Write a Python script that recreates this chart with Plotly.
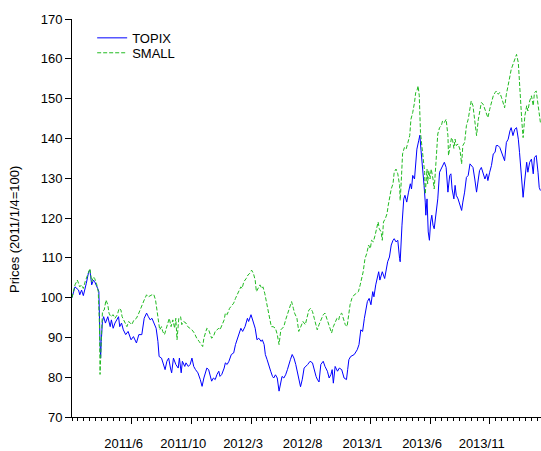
import plotly.graph_objects as go

# Trading-day index (0 = 2011/1/4) and index levels rebased to 100
topix_day = [0, 5, 11, 13, 16, 19, 24, 28, 30, 33, 36, 38, 43, 45, 47, 48, 49, 51, 53, 56,
             60, 64, 66, 69, 72, 78, 80, 83, 86, 90, 94, 99, 103, 106, 108, 112, 117, 121, 125,
             128, 131, 134, 138, 141, 144, 146, 150, 154, 156, 159, 162, 165, 167, 170, 174,
             178, 180, 183, 185, 189, 191, 195, 198, 201, 204, 207, 211, 215, 218, 221, 223,
             226, 229, 232, 234, 237, 240, 243, 246, 248, 251, 255, 257, 260, 263, 267, 271,
             274, 279, 283, 286, 290, 294, 296, 300, 303, 307, 310, 313, 317, 319, 322, 324,
             327, 330, 333, 336, 338, 341, 344, 347, 350, 352, 355, 358, 361, 363, 366, 369,
             372, 375, 377, 380, 383, 386, 389, 395, 399, 403, 406, 409, 411, 414, 417, 421,
             424, 428, 431, 434, 436, 438, 441, 445, 448, 452, 456, 460, 462, 464, 467, 473,
             478, 481, 484, 487, 490, 492, 495, 498, 501, 504, 506, 509, 512, 514, 516, 520,
             524, 526, 529, 532, 535, 538, 540, 543, 546, 549, 550, 553, 556, 558, 561, 564,
             567, 569, 571, 574, 576, 578, 581, 583, 585, 588, 590, 592, 593, 595, 597, 599,
             601, 603, 605, 607, 610, 613, 616, 619, 621, 624, 627, 630, 633, 635, 637, 640,
             642, 644, 647, 650, 653, 655, 658, 661, 664, 667, 669, 672, 675, 678, 681, 683,
             686, 689, 692, 695, 697, 700, 703, 706, 709, 711, 714, 717, 720, 722, 725, 728,
             731, 734, 736, 739, 742, 745, 748, 750, 753, 756, 759, 762, 764, 767, 770, 773,
             775, 778, 781, 783, 785]
topix = [100, 102.7, 101.9, 100.7, 101.9, 100.5, 103.6, 106.5, 106.9, 103.2, 104.4, 104, 102.3,
         101.5, 89, 84.8, 89, 94, 95.2, 93.6, 95.2, 92.7, 94.4, 92.3, 93.6, 95.2, 92.7, 93.6,
         91.9, 90.7, 91.5, 89.4, 90.2, 89.4, 88.6, 90.7, 90.7, 94.8, 96.1,
         95.2, 94.4, 94.8, 93.6, 92.3, 89, 85.2, 84.8, 83.2, 81.9, 84, 84.8, 82.3, 81.1, 84.8,
         83.2, 82.3, 84.8, 81.1, 84, 82.7, 83.6, 82.7, 83.2, 84.8, 82.7, 81.9, 81.1, 79.4, 77.7,
         79.8, 80.7, 82.3, 81.9, 79.8, 79, 79.8, 79.4, 80.7, 81.5, 80.2, 80.7, 82.3, 83.6, 83.2,
         84, 85.7, 86.1, 88.2, 90.7, 92.3, 91.5, 92.7, 94.8, 94, 95.7, 94, 92.3, 89.4, 89.8, 89,
         89.4, 88.2, 85.7, 84.4, 82.7, 81.5, 80.2, 79.8, 80.6, 79.8, 76.5, 79, 80.2, 79.8, 80.6,
         81.9, 82.7, 84.4, 85.7, 84.8, 83.2, 81.9, 79.4, 77.6, 79.5, 82.3, 83.2, 84, 83.6, 81.5,
         80.2, 79.5, 78.8, 83.2, 84, 82.7, 81.5, 79.8, 80.7, 81.9, 78.5, 82.7, 81.5, 82.3, 81.9,
         79.8, 79.4, 81.9, 84.4, 85.2, 85.7, 86.9, 88.2, 91.9, 91.5, 94.8, 96.5, 99, 99.8, 98.2,
         101.5, 100.2, 103.2, 104.8, 106.5, 104.4, 106.5, 104.8, 106.5, 109, 110.2, 113.2,
         114.4, 114.8, 114, 114.4, 109.8, 109, 118.2, 124.8, 125.7, 124, 126.5, 128.6, 127.3,
         130.7, 129.8, 134, 137.3, 139.4, 140.8, 136.9, 132.3, 128.2, 124, 120.7, 124.8, 116.5,
         114.4, 119, 120.7, 118.2, 117.3, 121.5, 124.8, 131.5, 132.3, 133.2, 134, 132.7, 126.5,
         130.7, 131.1, 127.3, 124.8, 128.2, 125.7, 124.8, 123.2, 121.9, 124, 126.5, 130.2,
         130.7, 133.6, 133.2, 132.7, 129.8, 126.5, 129.8, 131.9, 132.7, 131.5, 129.8, 131.1,
         129.4, 131.5, 133.2, 136.1, 136.5, 138.2, 138.2, 137.7, 136.5, 135.7, 134.4, 139,
         139.8, 141.9, 142.7, 140.7, 142.3, 142.7, 139.8, 136.5, 129.8, 125.2, 129.8, 134,
         131.5, 134, 134.8, 131.1, 135.2, 135.7, 131.5, 127.7, 126.9]

small_day = [0, 5, 9, 13, 16, 19, 22, 25, 28, 30, 33, 36, 38, 41, 44, 46, 47, 49, 51, 54, 57,
             60, 62, 65, 69, 72, 76, 79, 82, 84, 88, 92, 95, 100, 104, 108, 112, 117, 121, 125,
             128, 134, 137, 140, 142, 145, 147, 150, 152, 155, 158, 161, 163, 166, 169, 172,
             174, 176, 179, 182, 184, 187, 191, 194, 198, 201, 205, 209, 213, 217, 219, 221,
             223, 226, 229, 232, 234, 237, 240, 243, 246, 248, 252, 255, 257, 260, 264, 269,
             271, 274, 277, 280, 283, 285, 288, 292, 295, 298, 301, 304, 307, 309, 312, 315,
             318, 320, 323, 326, 329, 332, 334, 337, 341, 344, 347, 350, 352, 355, 358, 361,
             363, 366, 368, 371, 373, 377, 380, 383, 387, 391, 395, 397, 400, 403, 406, 409,
             411, 414, 417, 421, 424, 427, 430, 433, 435, 438, 441, 444, 447, 449, 452, 455,
             458, 461, 463, 466, 469, 473, 477, 480, 483, 486, 488, 491, 494, 497, 500, 502,
             505, 508, 511, 513, 515, 518, 520, 522, 525, 528, 530, 532, 535, 538, 540, 543,
             546, 549, 550, 552, 554, 557, 560, 563, 566, 568, 571, 574, 576, 578, 580, 582,
             584, 586, 588, 590, 591, 592, 595, 596, 598, 600, 602, 605, 607, 610, 613, 616,
             619, 621, 624, 627, 630, 631, 634, 636, 638, 640, 642, 644, 647, 650, 653, 655,
             658, 661, 664, 667, 669, 672, 675, 678, 681, 683, 686, 689, 692, 695, 697, 700,
             703, 706, 709, 711, 714, 717, 720, 722, 725, 728, 731, 734, 736, 739, 742, 745,
             748, 750, 752, 754, 756, 759, 762, 764, 767, 770, 773, 775, 778, 781, 783, 785]
small = [100, 103.2, 104.4, 102.7, 103.2, 102.3, 104, 105.2, 106.9, 107.3, 104, 105.2, 104.8,
         103.6, 101.5, 93.2, 80.7, 89, 96.5, 96.9, 99.4, 98.2, 96.1, 95.2, 95.7, 94.8, 95.7,
         97.3, 96.9, 95.2, 94, 92.7, 94, 93.2, 94.4, 94.8, 96.1, 98.2, 99.4, 100.7,
         100.2, 100.7, 100.8, 99.4, 97.3, 94, 91.9, 92.7, 91.5, 90.7, 92.3, 94.4, 94.8, 92.7,
         94.4, 92.3, 94.8, 89.4, 94.8, 95.2, 93.2, 94, 93.6, 92.7, 92.3, 91.9, 91.1, 89.8, 89,
         88.2, 87.7, 89.8, 91.1, 92.3, 91.9, 90.7, 89.8, 90.2, 91.5, 91.9, 92.3, 91.9, 93.2,
         94.4, 96.1, 95.7, 97.3, 98.2, 98.6, 99.8, 100.7, 101.5, 102.7, 102.3, 104, 104.8,
         105.7, 106.1, 106.9, 106.1, 104.4, 101.5, 102.3, 103.2, 102.3, 102.7, 101.1, 98.6,
         96.9, 94, 92.7, 92.7, 92.3, 90.7, 88.2, 91.9, 92.3, 92.7, 94.4, 95.7, 96.5, 98.2, 99,
         97.3, 96.1, 94.8, 91.5, 92.5, 94, 93.2, 95.7, 96.9, 97.3, 96.5, 94.8, 93.2, 91.9,
         93.2, 94.4, 95.7, 96.1, 94.8, 93.2, 91.9, 91.1, 92.7, 94, 94.8, 94.4, 95.7, 96.1,
         94.8, 93.2, 92.7, 94.8, 98.2, 99.8, 100.7, 101.1, 101.5, 103.2, 105.2, 106.5, 109.8,
         111.1, 113.2, 112.3, 114.4, 114, 115.7, 118.2, 119, 117.3, 116.5, 114.4, 119, 119.8,
         121.1, 123.2, 124.8, 127.3, 128.6, 131.5, 132.3, 131.1, 128.2, 124.4, 129.8, 136.1,
         137.7, 137.3, 139, 140.7, 144.8, 146.5, 149, 151.5, 151.9, 153.2, 150.7, 141.5, 138.6,
         136.1, 134, 131.5, 126, 132.3, 128.6, 131.9, 129.8, 132.3, 129.8, 127.3, 134, 141.1,
         142.7, 143.2, 144.4, 144, 144.8, 140.7, 135.7, 139, 140.2, 139.4, 137.5, 139.8, 138.2,
         138.6, 137.3, 133.6, 138.2, 139, 143.2, 144.8, 148.2, 149.4, 148.2, 144.4, 140.7,
         144.8, 146.9, 149, 148.6, 147.3, 146.5, 145.2, 147.3, 149, 150.7, 151.5, 151.9, 151.1,
         151.5, 150.2, 149.4, 147.7, 151.1, 154, 155.7, 157.3, 158.6, 159.4, 161.1, 159, 153.2,
         150.2, 144, 140.2, 145.7, 148.2, 146.9, 149.4, 150.7, 148.2, 151.5, 151.9, 148.2,
         145.2, 144]

tick_days = [100, 200, 300, 400, 500, 600, 700]
tick_labels = ["2011/6", "2011/10", "2012/3", "2012/8", "2013/1", "2013/6", "2013/11"]

FONT = "Liberation Sans, Arial, sans-serif"

fig = go.Figure()
fig.add_trace(go.Scatter(x=topix_day, y=topix, mode="lines", name="TOPIX",
                         line=dict(color="#0000FF", width=1),
                         showlegend=True, legend="legend"))
fig.add_trace(go.Scatter(x=small_day, y=small, mode="lines", name="SMALL",
                         line=dict(color="#22BB22", width=1, dash="4px,2px"),
                         showlegend=True, legend="legend2"))

legend_style = dict(bgcolor="rgba(0,0,0,0)", borderwidth=0, xanchor="left",
                    yanchor="middle", font=dict(family=FONT, size=13, color="#000"),
                    itemwidth=30, visible=True)

fig.update_layout(
    width=541, height=451,
    margin=dict(l=72, r=0, t=19, b=32),
    paper_bgcolor="white", plot_bgcolor="white",
    font=dict(family=FONT, size=13, color="#000"),
    showlegend=True,
    legend=dict(x=0.043, y=0.9525, **legend_style),
    legend2=dict(x=0.043, y=0.915, **legend_style),
    xaxis=dict(range=[0, 786], showgrid=False, zeroline=False, showline=True,
               linecolor="#000", linewidth=1, ticks="outside", ticklen=6,
               tickcolor="#000", tickmode="array", tickvals=tick_days,
               ticktext=tick_labels, ticklabelstandoff=8, ticklabelshift=-8,
               minor=dict(tickmode="linear", tick0=0, dtick=10, ticks="outside",
                          ticklen=3, tickcolor="#000", showgrid=False)),
    yaxis=dict(range=[70, 170], dtick=10, showgrid=False, zeroline=False,
               showline=True, linecolor="#000", linewidth=1, ticks="outside",
               ticklen=6, tickcolor="#000"),
    annotations=[dict(text="Prices (2011/1/4=100)", textangle=-90, xref="paper",
                      yref="paper", x=-0.1215, y=0.47, xanchor="center",
                      yanchor="middle", showarrow=False,
                      font=dict(family=FONT, size=13, color="#000"))],
)

fig.write_html("out.html")
